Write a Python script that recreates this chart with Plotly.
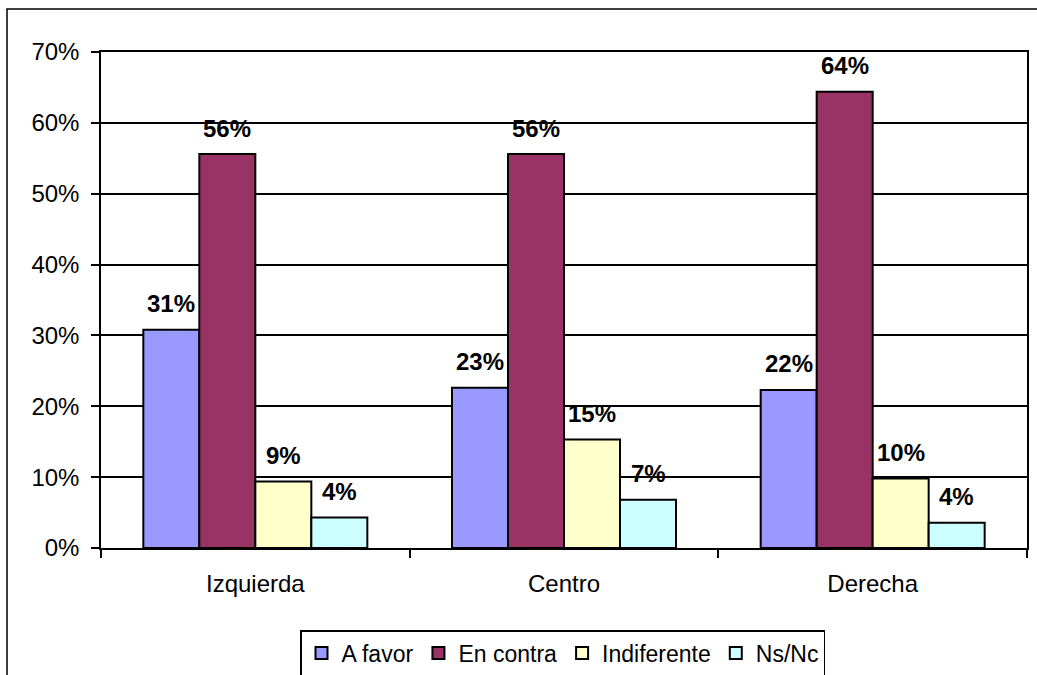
import plotly.graph_objects as go

categories = ["Izquierda", "Centro", "Derecha"]
series_names = ["A favor", "En contra", "Indiferente", "Ns/Nc"]
a_favor = [30.8, 22.6, 22.3]
en_contra = [55.6, 55.6, 64.4]
indiferente = [9.4, 15.3, 9.8]
ns_nc = [4.3, 6.8, 3.55]
colors = ["#9999FF", "#993366", "#FFFFCC", "#CCFFFF"]
y_ticks = [0, 10, 20, 30, 40, 50, 60, 70]

series_values = [a_favor, en_contra, indiferente, ns_nc]
FONT = "Arial, Liberation Sans, sans-serif"

fig = go.Figure()
for name, vals, col in zip(series_names, series_values, colors):
    fig.add_trace(go.Bar(
        x=categories, y=vals, name=name,
        marker=dict(color=col, line=dict(color="black", width=2)),
    ))

# data labels above bars
BAR_PX = 56
for i, vals in enumerate(series_values):
    for c, v in zip(categories, vals):
        fig.add_annotation(
            x=c, y=v, xref="x", yref="y", text=f"{v:.0f}%", showarrow=False,
            xshift=(i - 1.5) * BAR_PX, yshift=26,
            font=dict(family=FONT, size=24, color="black", weight="bold"),
        )

# outer chart border (clipped on right/bottom)
fig.add_shape(type="rect", xref="paper", yref="paper",
              x0=-0.1015, x1=1.2, y0=-0.5, y1=1.0867,
              line=dict(color="black", width=1.5), layer="below")

fig.update_layout(
    width=1037, height=675,
    margin=dict(l=101, r=10, t=52, b=127, autoexpand=False),
    plot_bgcolor="white", paper_bgcolor="white",
    barmode="group", bargap=0.2743, bargroupgap=0,
    font=dict(family=FONT, size=24, color="black"),
    showlegend=True,
    legend=dict(
        orientation="h", x=(300 - 101) / 926, xanchor="left",
        y=(548 - 630) / 496, yanchor="top",
        bordercolor="black", borderwidth=1.5, bgcolor="white",
        font=dict(family=FONT, size=23, color="black"),
        itemwidth=30, tracegroupgap=0,
    ),
)

fig.update_xaxes(
    showline=True, linecolor="black", linewidth=1.5, mirror=True,
    ticks="outside", tickson="boundaries", ticklen=8, tickcolor="black", tickwidth=1.5,
    showgrid=False, ticklabelstandoff=13,
)
fig.update_yaxes(
    range=[0, 70], tickvals=y_ticks, ticktext=[f"{t}%" for t in y_ticks],
    showline=True, linecolor="black", linewidth=1.5, mirror=True,
    ticks="outside", ticklen=8, tickcolor="black", tickwidth=1.5,
    showgrid=True, gridcolor="black", gridwidth=1.5, zeroline=False,
    ticklabelstandoff=7,
)

fig.write_html(
    "out.html",
    config={"displayModeBar": False},
    post_script="document.body.style.margin='0';document.body.style.overflow='hidden';",
)
